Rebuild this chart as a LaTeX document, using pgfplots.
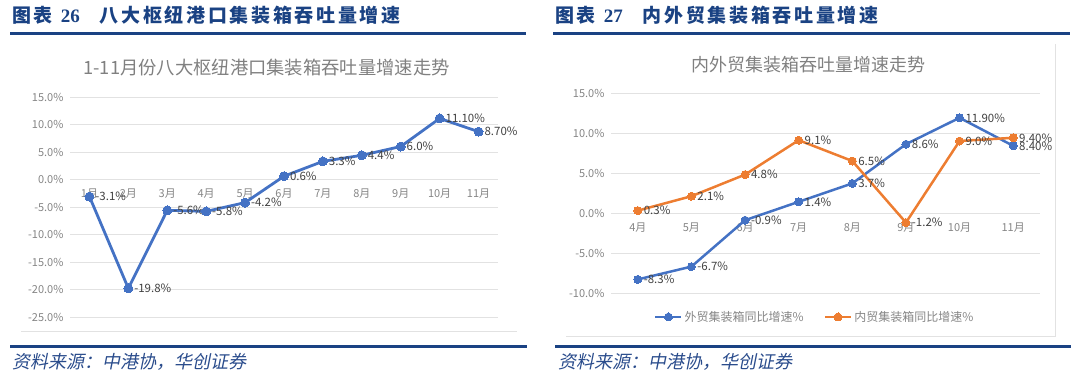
\documentclass[border=0pt]{standalone}
\usepackage{pgfplots}
\pgfplotsset{compat=1.18}
\usepackage{fontspec}
\setmainfont{Noto Sans CJK SC}
\newfontfamily\hdfont[LetterSpace=14]{Noto Sans CJK SC}
\newfontfamily\numfont{Liberation Serif}
\newfontfamily\srcfont[FakeSlant=0.2]{Noto Sans CJK SC}
\definecolor{hdblue}{HTML}{1A4283}
\definecolor{srcblue}{HTML}{2A4C8C}
\definecolor{sblue}{HTML}{4472C4}
\definecolor{sorange}{HTML}{ED7D31}
\definecolor{gridc}{HTML}{E2E2E2}
\definecolor{tickc}{HTML}{858585}
\definecolor{labc}{HTML}{404040}
\definecolor{titc}{HTML}{808080}
\pgfplotsset{
  mychart/.style={
    scale only axis, clip=false,
    axis x line=middle, axis y line=left,
    axis line style={draw=none},
    hide obscured x ticks=false, hide obscured y ticks=false,
    major tick length=0,
    ymajorgrids, grid style={gridc, line width=0.8pt},
    tick label style={text=tickc, font=\fontsize{11}{11}\selectfont},
    yticklabel style={xshift=-3pt},
    xticklabel style={yshift=-6pt},
    nodes near coords, point meta=explicit symbolic,
    nodes near coords style={anchor=west, text=labc, font=\fontsize{11.5}{11.5}\selectfont, xshift=4pt, inner sep=2pt},
  }
}
\begin{document}
\begin{tikzpicture}[x=1pt,y=1pt]
\path[use as bounding box] (0,0) rectangle (1080,381);
% headers
\node[anchor=west, text=hdblue, font=\hdfont\fontsize{19}{19}\selectfont\bfseries, inner sep=0] at (12,365.5) {图表\hspace{8pt}{\numfont\bfseries 26}\hspace{20pt}八大枢纽港口集装箱吞吐量增速};
\node[anchor=west, text=hdblue, font=\hdfont\fontsize{19}{19}\selectfont\bfseries, inner sep=0] at (555,365.5) {图表\hspace{8pt}{\numfont\bfseries 27}\hspace{20pt}内外贸集装箱吞吐量增速};
\draw[hdblue, line width=3pt] (10,347.5) -- (526,347.5);
\draw[hdblue, line width=3pt] (553,347.5) -- (1070,347.5);
\draw[hdblue, line width=3pt] (10,35) -- (527,35);
\draw[hdblue, line width=3pt] (555,35) -- (1071,35);
\node[anchor=west, text=srcblue, font=\srcfont\fontsize{18}{18}\selectfont, inner sep=0] at (12,19) {资料来源：中港协，华创证券};
\node[anchor=west, text=srcblue, font=\srcfont\fontsize{18}{18}\selectfont, inner sep=0] at (558,19) {资料来源：中港协，华创证券};
% frames
\draw[gridc, line width=1pt] (21,50) -- (517,50);
\draw[gridc, line width=1pt] (566,45) -- (1055,45) -- (1055,337);
% titles
\node[text=titc, font=\fontsize{18.3}{18.3}\selectfont] at (266.5,313) {1-11月份八大枢纽港口集装箱吞吐量增速走势};
\node[text=titc, font=\fontsize{18}{18}\selectfont] at (808,316) {内外贸集装箱吞吐量增速走势};

\begin{axis}[mychart,
  at={(70pt,64pt)}, anchor=south west, width=428pt, height=220pt,
  xmin=0.5, xmax=11.5, ymin=-25, ymax=15,
  ytick={-25,-20,-15,-10,-5,0,5,10,15},
  yticklabels={-25.0\%,-20.0\%,-15.0\%,-10.0\%,-5.0\%,0.0\%,5.0\%,10.0\%,15.0\%},
  xtick={1,...,11},
  xticklabels={1月,2月,3月,4月,5月,6月,7月,8月,9月,10月,11月},
]
\addplot[sblue, line width=2.8pt, mark=*, mark size=4.5pt, mark options={fill=sblue, draw=sblue, line width=0pt}] coordinates {
(1,-3.1) [-3.1\%]
(2,-19.8) [-19.8\%]
(3,-5.6) [-5.6\%]
(4,-5.8) [-5.8\%]
(5,-4.2) [-4.2\%]
(6,0.6) [0.6\%]
(7,3.3) [3.3\%]
(8,4.4) [4.4\%]
(9,6.0) [6.0\%]
(10,11.1) [11.10\%]
(11,8.7) [8.70\%]
};
\end{axis}

\begin{axis}[mychart,
  at={(611pt,88pt)}, anchor=south west, width=429pt, height=200pt,
  xmin=0.5, xmax=8.5, ymin=-10, ymax=15,
  ytick={-10,-5,0,5,10,15},
  yticklabels={-10.0\%,-5.0\%,0.0\%,5.0\%,10.0\%,15.0\%},
  xtick={1,...,8},
  xticklabels={4月,5月,6月,7月,8月,9月,10月,11月},
  legend columns=2,
  legend style={at={(axis description cs:0.475,-0.12)}, anchor=center, draw=none, fill=none,
    font=\fontsize{12}{12}\selectfont, text=tickc,
    /tikz/every even column/.append style={column sep=18pt}},
  legend image code/.code={\draw[mark repeat=2,mark phase=2,#1] plot coordinates {(0pt,0pt) (13pt,0pt) (26pt,0pt)};},
]
\addplot[sblue, line width=2.5pt, mark=*, mark size=4pt, mark options={fill=sblue, draw=sblue, line width=0pt}] coordinates {
(1,-8.3) [-8.3\%]
(2,-6.7) [-6.7\%]
(3,-0.9) [-0.9\%]
(4,1.4) [1.4\%]
(5,3.7) [3.7\%]
(6,8.6) [8.6\%]
(7,11.9) [11.90\%]
(8,8.4) [8.40\%]
};
\addlegendentry{外贸集装箱同比增速\%}
\addplot[sorange, line width=2.5pt, mark=*, mark size=4pt, mark options={fill=sorange, draw=sorange, line width=0pt}] coordinates {
(1,0.3) [0.3\%]
(2,2.1) [2.1\%]
(3,4.8) [4.8\%]
(4,9.1) [9.1\%]
(5,6.5) [6.5\%]
(6,-1.2) [-1.2\%]
(7,9.0) [9.0\%]
(8,9.4) [9.40\%]
};
\addlegendentry{内贸集装箱同比增速\%}
\end{axis}
\end{tikzpicture}
\end{document}
